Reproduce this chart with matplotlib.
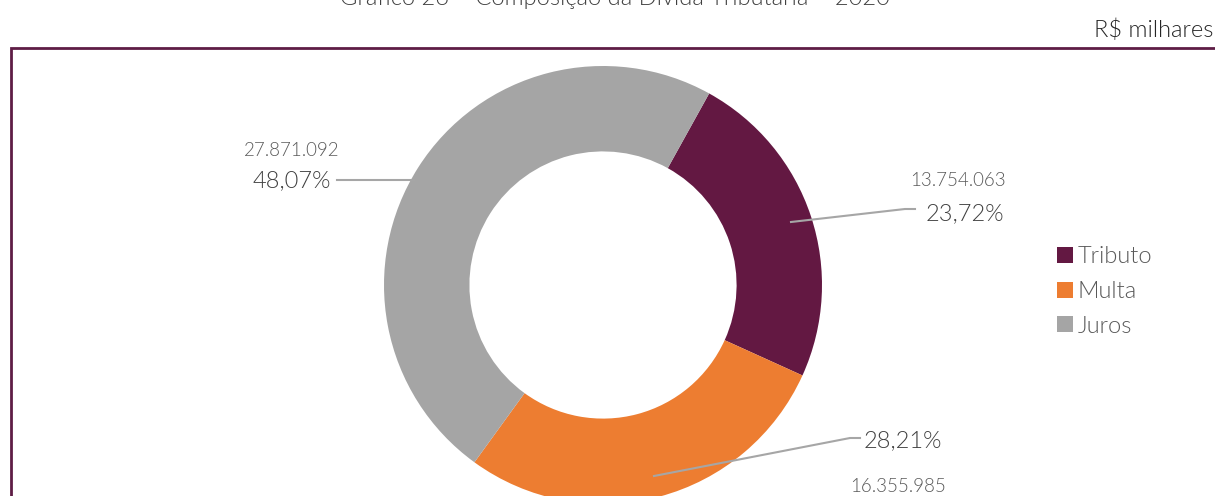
import matplotlib.pyplot as plt
from matplotlib.patches import Rectangle

plt.rcParams['font.family'] = ['Lato', 'DejaVu Sans']
plt.rcParams['font.weight'] = 300

categorias = ['Tributo', 'Multa', 'Juros']
valores = [13754063, 16355985, 27871092]
valores_txt = ['13.754.063', '16.355.985', '27.871.092']
percentuais = ['23,72%', '28,21%', '48,07%']
cores = ['#631842', '#ED7D31', '#A5A5A5']

W, H = 1215, 496
fig = plt.figure(figsize=(W / 100, H / 100), dpi=100)
ax = fig.add_axes([0, 0, 1, 1])
ax.axis('off')

# moldura (cortada pela imagem)
ax.add_patch(Rectangle((10.5, -50), 1300, H - 48 + 50, fill=False,
                       edgecolor='#5E1D45', linewidth=2))

wedges, _ = ax.pie(valores, colors=cores, startangle=61, counterclock=False,
                   center=(603, H - 285), radius=219,
                   wedgeprops=dict(width=219 * 0.39, edgecolor='none'))
ax.set_xlim(0, W)
ax.set_ylim(0, H)
ax.set_aspect('auto')

cor_txt = '#404040'
cor_val = '#595959'
cor_linha = '#A6A6A6'

# Tributo
ax.plot([791, 905, 915], [H - 222, H - 209, H - 209], color=cor_linha, lw=1.5)
ax.text(958, H - 180, valores_txt[0], ha='center', va='center', fontsize=13.5, color=cor_val)
ax.text(965, H - 214, percentuais[0], ha='center', va='center', fontsize=17, color=cor_txt)
# Multa
ax.plot([654, 850, 860], [H - 476, H - 438, H - 438], color=cor_linha, lw=1.5)
ax.text(903, H - 441, percentuais[1], ha='center', va='center', fontsize=17, color=cor_txt)
ax.text(898, H - 487, valores_txt[1], ha='center', va='center', fontsize=13.5, color=cor_val)
# Juros
ax.plot([337, 414], [H - 180, H - 180], color=cor_linha, lw=1.5)
ax.text(292, H - 150, valores_txt[2], ha='center', va='center', fontsize=13.5, color=cor_val)
ax.text(292, H - 181, percentuais[2], ha='center', va='center', fontsize=17, color=cor_txt)

ax.text(615, H - 5, 'Gráfico 26 – Composição da Dívida Tributária – 2020',
        ha='center', va='baseline', fontsize=17, color=cor_txt)
ax.text(1213, H - 30, 'R$ milhares', ha='right', va='center', fontsize=17, color='#262626')

leg = ax.legend(wedges, categorias, loc='upper left', bbox_to_anchor=(1036 / W, 1 - 225 / H),
                frameon=False, fontsize=17, handlelength=0.65, handleheight=0.65,
                handletextpad=0.2, labelspacing=0.58, labelcolor='#595959')

fig.savefig('out.png', dpi=100)
